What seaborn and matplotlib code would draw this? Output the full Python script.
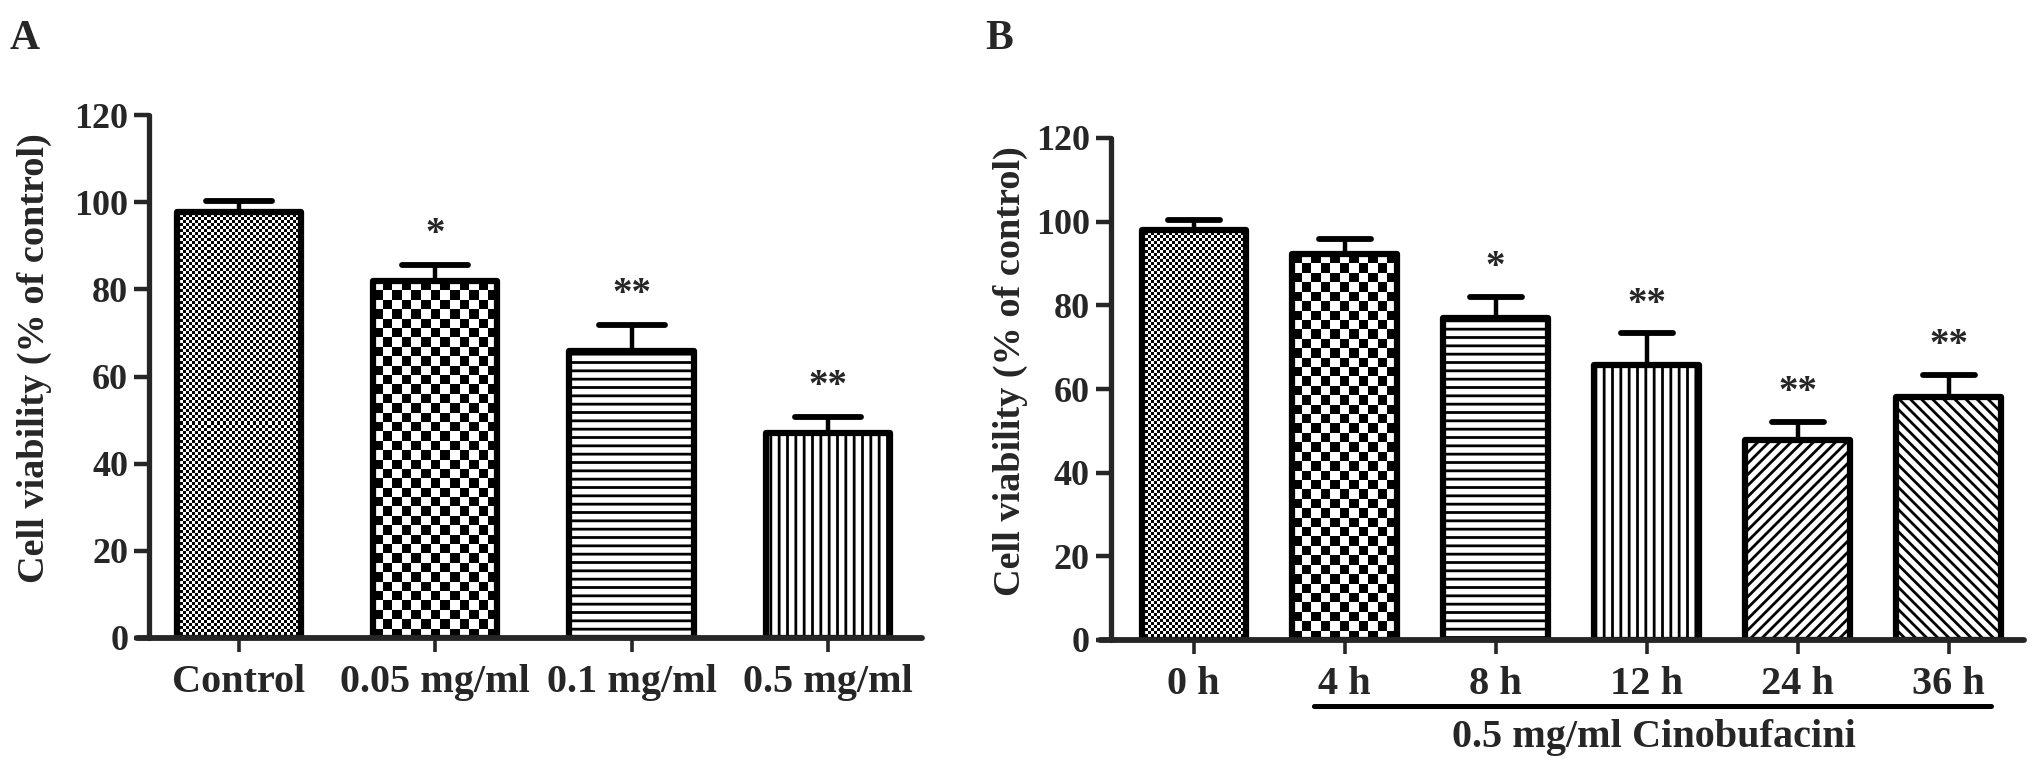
import numpy as np
import matplotlib
matplotlib.use("Agg")
import matplotlib.pyplot as plt
from matplotlib.markers import MarkerStyle
import seaborn as sns

# panel A: dose
a_labels = ["Control", "0.05 mg/ml", "0.1 mg/ml", "0.5 mg/ml"]
a_means = [97.8, 81.9, 65.9, 47.1]
a_sd = [2.4, 3.6, 5.9, 3.7]
a_stars = ["", "*", "**", "**"]

# panel B: time course
b_labels = ["0 h", "4 h", "8 h", "12 h", "24 h", "36 h"]
b_means = [98.1, 92.2, 77.0, 65.8, 47.8, 58.0]
b_sd = [2.4, 3.7, 5.0, 7.5, 4.3, 5.3]
b_stars = ["", "", "*", "**", "**", "**"]
b_group = "0.5 mg/ml Cinobufacini"

# fill style per bar: ("check", square px) or hatch string
a_fills = [("check", 3), ("check", 9.4), "--", "||"]
b_fills = [("check", 3), ("check", 9.4), "--", "||", "///", "\\\\\\"]

sns.set_theme(style="ticks")
plt.rcParams["font.family"] = ["Liberation Serif", "DejaVu Serif"]
plt.rcParams["font.weight"] = "bold"
plt.rcParams["hatch.linewidth"] = 2.0
plt.rcParams["hatch.color"] = "black"

W, H = 2031, 767
fig = plt.figure(figsize=(W / 100, H / 100), dpi=100)


def px_axes(left, right, top, bottom):
    return fig.add_axes([left / W, 1 - bottom / H, (right - left) / W, (bottom - top) / H])


def checker_fill(ax, patch, sq):
    x0, y0 = patch.get_x(), patch.get_y()
    w, h = patch.get_width(), patch.get_height()
    p0 = ax.transData.transform((x0, y0))
    p1 = ax.transData.transform((x0 + w, y0 + h))
    ncol = max(1, int(round((p1[0] - p0[0]) / sq)))
    nrow = max(1, int(round((p1[1] - p0[1]) / sq)))
    grid = np.indices((nrow, ncol)).sum(axis=0) % 2
    im = ax.imshow(grid, cmap="gray", vmin=0, vmax=1, origin="lower",
                   extent=(x0, x0 + w, y0, y0 + h), interpolation="nearest",
                   aspect="auto", zorder=patch.get_zorder() - 0.1)
    im.set_clip_path(patch)
    patch.set_facecolor("none")


def panel(ax, labels, means, sd, stars, fills, width, xlim, yaxis_x, capsize, label_x):
    sns.barplot(x=labels, y=means, color="white", edgecolor="black",
                linewidth=4.5, width=width, errorbar=None, ax=ax, zorder=2)
    ax.set_xlim(*xlim)
    ax.set_ylim(0, 120)

    bars = ax.patches[:len(labels)]
    for p, f in zip(bars, fills):
        p.set_joinstyle("round")
        if isinstance(f, tuple):
            checker_fill(ax, p, f[1])
        else:
            p.set_hatch(f)
    ax.set_xlim(*xlim)
    ax.set_ylim(0, 120)

    xs = [p.get_x() + p.get_width() / 2 for p in bars]
    eb = ax.errorbar(xs, means, yerr=[np.zeros(len(sd)), sd], fmt="none",
                     ecolor="black", elinewidth=3.2, capsize=capsize,
                     capthick=4.2, zorder=1.5)
    for c in eb[1]:
        c.set_marker(MarkerStyle("_", capstyle="round"))
        c.set_clip_on(False)
    for x, m, s, st in zip(xs, means, sd, stars):
        if st:
            ax.text(x, m + s + 7, st, ha="center", va="center",
                    fontsize=28, fontweight="bold")

    sns.despine(ax=ax)
    ax.spines["left"].set_position(("data", yaxis_x))
    ax.spines["left"].set_linewidth(3.8)
    ax.spines["bottom"].set_linewidth(4.2)
    ax.spines["left"].set_capstyle("round")
    ax.spines["bottom"].set_capstyle("round")
    ax.set_yticks(range(0, 121, 20))
    ax.tick_params(axis="y", length=11, width=3.2, pad=4, labelsize=26)
    ax.tick_params(axis="x", length=10, width=2.6, pad=9, labelsize=29)
    for t in ax.get_xticklabels() + ax.get_yticklabels():
        t.set_fontweight("bold")
    ax.set_xlabel("")
    ax.set_ylabel("Cell viability (% of control)", fontsize=27.5, fontweight="bold")
    ax.yaxis.set_label_coords(label_x, 0.535)


ax_a = px_axes(137, 922, 115, 638)
panel(ax_a, a_labels, a_means, a_sd, a_stars, a_fills, width=0.633,
      xlim=(-0.52, 3.48), yaxis_x=-0.459, capsize=24, label_x=-0.108)

ax_b = px_axes(1100, 2024, 138, 640)
panel(ax_b, b_labels, b_means, b_sd, b_stars, b_fills, width=0.69,
      xlim=(-0.62, 5.50), yaxis_x=-0.55, capsize=19, label_x=-0.078)

# treatment bracket under the 4 h - 36 h groups
ax_b.annotate("", xy=(0.80, -0.1325), xytext=(5.285, -0.1325),
              xycoords=("data", "axes fraction"),
              arrowprops=dict(arrowstyle="-", lw=3.6, color="black",
                              shrinkA=0, shrinkB=0))
ax_b.text(3.05, -0.194, b_group, transform=ax_b.get_xaxis_transform(),
          ha="center", va="center", fontsize=29, fontweight="bold")

fig.text(10 / W, 1 - 20 / H, "A", ha="left", va="top", fontsize=30, fontweight="bold")
fig.text(985 / W, 1 - 20 / H, "B", ha="left", va="top", fontsize=30, fontweight="bold")

fig.savefig("out.png", dpi=100, facecolor="white")
